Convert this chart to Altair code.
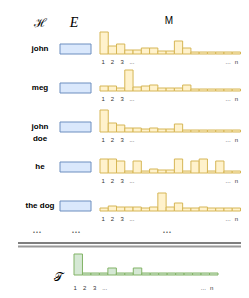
import altair as alt
import pandas as pd

# ---------------- data ----------------
WORDS = ["john", "meg", "john\ndoe", "he", "the dog"]
JOHN = [22, 8, 10, 4, 4, 6, 6, 3, 3, 13, 6, 2, 2, 2, 2, 2, 2]
MEG = [5, 5, 3, 21, 4, 5, 6, 3, 3, 3, 6, 2, 2, 2, 2, 2, 2]
JOHN_DOE = [22, 9, 7, 4, 4, 3, 4, 3, 3, 8, 2, 2, 2, 2, 2, 2, 2]
HE = [14, 14, 12, 2, 12, 2, 4, 3, 3, 14, 2, 12, 14, 2, 12, 2, 2]
THE_DOG = [3, 5, 4, 4, 4, 3, 4, 18, 4, 8, 3, 3, 4, 3, 3, 3, 3]
M_VALUES = [JOHN, MEG, JOHN_DOE, HE, THE_DOG]
T_VALUES = [21, 2, 2, 2, 7, 2, 2, 7, 2, 2, 2, 2, 2, 2, 2, 2, 2]
TICK_LABELS = ["1", "2", "3", "...", "...", "n"]
TICK_BINS = [1, 2, 3, 4, 16, 17]
HEADERS = ["ℋ", "E", "M"]
DOTS = ["•••", "•••", "•••"]
T_SYMBOL = "𝒯"

# ---------------- layout ----------------
W, H = 233, 282
ROW_BASE = [54, 91, 132, 173, 211]
RECT_CENTER = [49, 88, 127, 167, 206]
M_X0, M_SPAN = 100, 140.5
T_X0, T_SPAN, T_BASE = 74, 144, 275
NB = len(T_VALUES)
M_BW = M_SPAN / NB
T_BW = T_SPAN / NB
TICK_DX = [-1, 0, 1.5, 3, 0, 0]

XS = alt.Scale(domain=[8, 8 + W], nice=False, zero=False)
YS = alt.Scale(domain=[8, 8 + H], nice=False, zero=False, reverse=True)


def X(f):
    return alt.X(f"{f}:Q", scale=XS, axis=None)


def Y(f):
    return alt.Y(f"{f}:Q", scale=YS, axis=None)


bars = []
for r, vals in enumerate(M_VALUES):
    for i, v in enumerate(vals):
        bars.append(dict(x=M_X0 + i * M_BW, x2=M_X0 + (i + 1) * M_BW,
                         y=ROW_BASE[r], y2=ROW_BASE[r] - v))
bars_df = pd.DataFrame(bars)

t_bars_df = pd.DataFrame([dict(x=T_X0 + i * T_BW, x2=T_X0 + (i + 1) * T_BW,
                               y=T_BASE, y2=T_BASE - v)
                          for i, v in enumerate(T_VALUES)])

ticks = []
for r in range(len(M_VALUES)):
    for lab, b, dx in zip(TICK_LABELS, TICK_BINS, TICK_DX):
        ticks.append(dict(x=M_X0 + (b - 0.5) * M_BW + dx, y=ROW_BASE[r] + 7.5, t=lab))
ticks_df = pd.DataFrame(ticks)
t_ticks_df = pd.DataFrame([dict(x=T_X0 + (b - 0.5) * T_BW + dx - 2, y=T_BASE + 13, t=lab)
                           for lab, b, dx in zip(TICK_LABELS, TICK_BINS, TICK_DX)])

words_df = pd.DataFrame(dict(x=[40] * len(WORDS), y=RECT_CENTER, t=WORDS))
rects_df = pd.DataFrame(dict(x=[60] * 5, x2=[91] * 5,
                             y=[c - 5 for c in RECT_CENTER], y2=[c + 5 for c in RECT_CENTER]))

hdr_df = pd.DataFrame(dict(x=[40, 74, 169], y=[23, 23, 21], t=HEADERS))
dots_df = pd.DataFrame(dict(x=[37, 76, 167], y=[232] * 3, t=DOTS))
sep_df = pd.DataFrame(dict(x=[18, 18], x2=[8 + W, 8 + W], y=[243, 246.5],
                           c=["black", "gray"]))
tsym_df = pd.DataFrame(dict(x=[58], y=[277], t=[T_SYMBOL]))

layers = [
    alt.Chart(hdr_df.iloc[[0]]).mark_text(font="DejaVu Serif", fontSize=12, fill="#000000")
    .encode(x=X("x"), y=Y("y"), text="t:N"),
    alt.Chart(hdr_df.iloc[[1]]).mark_text(font="Liberation Serif", fontStyle="italic", fontSize=14, fill="#000000")
    .encode(x=X("x"), y=Y("y"), text="t:N"),
    alt.Chart(hdr_df.iloc[[2]]).mark_text(font="Liberation Sans", fontSize=10, fill="#000000")
    .encode(x=X("x"), y=Y("y"), text="t:N"),
    alt.Chart(words_df).mark_text(font="Liberation Sans", fontWeight="bold", fontSize=8,
                                  lineBreak="\n", lineHeight=12, fill="#000000")
    .encode(x=X("x"), y=Y("y"), text="t:N"),
    alt.Chart(rects_df).mark_rect(fill="#dae8fc", stroke="#6c8ebf", strokeWidth=1)
    .encode(x=X("x"), x2="x2:Q", y=Y("y"), y2="y2:Q"),
    alt.Chart(bars_df).mark_rect(fill="#fff2cc", stroke="#d6b656", strokeWidth=1)
    .encode(x=X("x"), x2="x2:Q", y=Y("y"), y2="y2:Q"),
    alt.Chart(ticks_df).mark_text(font="Liberation Sans", fontSize=6, fill="#333333")
    .encode(x=X("x"), y=Y("y"), text="t:N"),
    alt.Chart(dots_df).mark_text(font="DejaVu Sans", fontSize=5, fill="#333333")
    .encode(x=X("x"), y=Y("y"), text="t:N"),
    alt.Chart(sep_df).mark_rule()
    .encode(x=X("x"), x2="x2:Q", y=Y("y"),
            color=alt.Color("c:N", scale=alt.Scale(domain=["black", "gray"], range=["#000000", "#999999"]), legend=None),
            strokeWidth=alt.StrokeWidth("c:N", scale=alt.Scale(domain=["black", "gray"], range=[1.2, 2]), legend=None)),
    alt.Chart(tsym_df).mark_text(font="DejaVu Serif", fontSize=12, fill="#000000")
    .encode(x=X("x"), y=Y("y"), text="t:N"),
    alt.Chart(t_bars_df).mark_rect(fill="#d5e8d4", stroke="#82b366", strokeWidth=1)
    .encode(x=X("x"), x2="x2:Q", y=Y("y"), y2="y2:Q"),
    alt.Chart(t_ticks_df).mark_text(font="Liberation Sans", fontSize=6, fill="#333333")
    .encode(x=X("x"), y=Y("y"), text="t:N"),
]

chart = alt.layer(*layers).properties(
    width=W, height=H, padding=0, autosize=alt.AutoSizeParams(type="none"),
    background="white",
).configure_view(stroke=None)

chart.save("out.html", embed_options={"renderer": "svg", "actions": False})
